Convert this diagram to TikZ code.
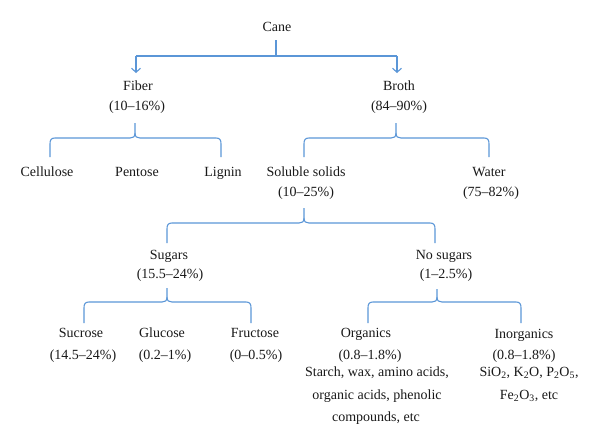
\documentclass[tikz,border=0pt]{standalone}
\usepackage{fontspec}
\setmainfont{Liberation Serif}
\usetikzlibrary{arrows.meta}
\definecolor{lineblue}{RGB}{91,150,215}
\definecolor{txt}{RGB}{25,25,25}
\newcommand{\bracepath}[6]{%
  % #1 tip x, #2 tip top y, #3 horizontal y, #4 left x, #5 right x, #6 bottom y
  \draw[conn] (#4,#6) -- (#4,#3+6) .. controls (#4,#3+2) and (#4+1,#3) .. (#4+5,#3)
     -- (#1-5,#3) .. controls (#1-2,#3) and (#1,#3-1) .. (#1,#3-5) -- (#1,#2);
  \draw[conn] (#5,#6) -- (#5,#3+6) .. controls (#5,#3+2) and (#5-1,#3) .. (#5-5,#3)
     -- (#1+5,#3) .. controls (#1+2,#3) and (#1,#3-1) .. (#1,#3-5);
}
\begin{document}
\begin{tikzpicture}[x=1pt,y=-1pt,
  lbl/.style={anchor=base,inner sep=0pt,text=txt,font=\fontsize{14}{17}\selectfont},
  conn/.style={draw=lineblue,line width=1.1pt},
  arr/.style={conn,-{Straight Barb[length=4pt,width=9pt]}}]
\useasboundingbox (0,0) rectangle (600,447);
% level 0
\node[lbl] (cane) at (277,31.5) {Cane};
% level 1
\node[lbl] (fiber) at (138,90.5) {Fiber};
\node[lbl] (fiberp) at (137,110.5) {(10–16\%)};
\node[lbl] (broth) at (399,90.5) {Broth};
\node[lbl] (brothp) at (399,110.5) {(84–90\%)};
% level 2
\node[lbl] (cell) at (47,176.5) {Cellulose};
\node[lbl] (pent) at (137,176.5) {Pentose};
\node[lbl] (lign) at (223,176.5) {Lignin};
\node[lbl] (sol) at (306,176.5) {Soluble solids};
\node[lbl] (solp) at (306,196.5) {(10–25\%)};
\node[lbl] (water) at (489,176.5) {Water};
\node[lbl] (waterp) at (491,196.5) {(75–82\%)};
% level 3
\node[lbl] (sug) at (169,259.5) {Sugars};
\node[lbl] (sugp) at (170,278.5) {(15.5–24\%)};
\node[lbl] (nos) at (444,259.5) {No sugars};
\node[lbl] (nosp) at (446,278.5) {(1–2.5\%)};
% level 4
\node[lbl] (sucr) at (81,337.5) {Sucrose};
\node[lbl] (sucrp) at (83,359.5) {(14.5–24\%)};
\node[lbl] (gluc) at (162,337.5) {Glucose};
\node[lbl] (glucp) at (165,359.5) {(0.2–1\%)};
\node[lbl] (fruc) at (255,337.5) {Fructose};
\node[lbl] (frucp) at (256,359.5) {(0–0.5\%)};
\node[lbl] (org) at (366,337.5) {Organics};
\node[lbl] (orgp) at (370,359.5) {(0.8–1.8\%)};
\node[lbl] (orgd1) at (377,376.5) {Starch, wax, amino acids,};
\node[lbl] (orgd2) at (377,399.5) {organic acids, phenolic};
\node[lbl] (orgd3) at (376,421.5) {compounds, etc};
\node[lbl] (inorg) at (524,338) {Inorganics};
\node[lbl] (inorgp) at (524,359.5) {(0.8–1.8\%)};
\node[lbl] (inorgd1) at (529,376.5) {SiO\textsubscript{2}, K\textsubscript{2}O, P\textsubscript{2}O\textsubscript{5},};
\node[lbl] (inorgd2) at (529,399.5) {Fe\textsubscript{2}O\textsubscript{3}, etc};
% top connector
\coordinate (c0) at (276,40);
\coordinate (c1) at (276,56);
\coordinate (cl) at (136,56);
\coordinate (cr) at (397,56);
\coordinate (al) at (136,73);
\coordinate (ar) at (397,73);
\draw[conn] (c0) -- (c1);
\draw[conn] (cl) -- (cr);
\draw[arr] (cl) -- (al);
\draw[arr] (cr) -- (ar);
% braces
\bracepath{135}{123}{138}{50}{221}{157}
\bracepath{396}{123}{138}{304}{489}{157}
\bracepath{304}{208}{223}{167}{435}{243}
\bracepath{167}{288}{302}{84}{251}{323}
\bracepath{437}{289}{302}{368}{521}{323}
\end{tikzpicture}
\end{document}
